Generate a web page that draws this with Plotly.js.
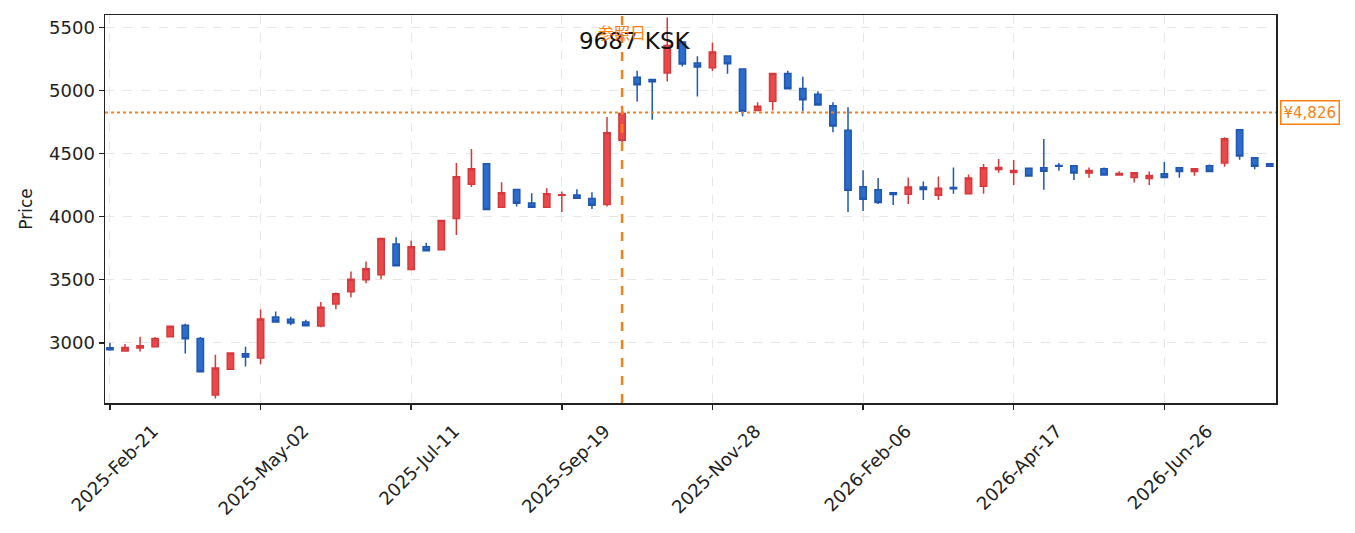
<!DOCTYPE html>
<html>
<head>
<meta charset="utf-8">
<script src="https://cdn.plot.ly/plotly-3.0.1.min.js"></script>
<style>
  html, body { margin: 0; padding: 0; background: #fff; }
  #chart { width: 1355px; height: 533px; }
</style>
</head>
<body>
<div id="chart"></div>
<script>
// Weekly prices (one candle per Friday from 2025-02-21)
const startDate = "2025-02-21";
const opens = [2960, 2934, 2958, 2968, 3048, 3138, 3034, 2586, 2790, 2912,
  2878, 3205, 3186, 3165, 3133, 3308, 3404, 3499, 3539, 3783,
  3581, 3762, 3738, 3985, 4258, 4420, 4075, 4216, 4109, 4075,
  4170, 4173, 4144, 4096, 4606, 5107, 5088, 5139, 5386, 5219,
  5181, 5275, 5171, 4842, 4916, 5136, 5017, 4972, 4881, 4686,
  4237, 4213, 4189, 4178, 4236, 4170, 4232, 4181, 4242, 4375,
  4351, 4385, 4388, 4407, 4404, 4346, 4380, 4330, 4311, 4303,
  4340, 4388, 4359, 4404, 4425, 4690, 4467, 4420];
const highs = [2998, 2990, 3048, 3045, 3132, 3151, 3045, 2904, 2920, 2968,
  3263, 3247, 3207, 3183, 3324, 3398, 3565, 3645, 3826, 3836,
  3812, 3794, 3972, 4425, 4537, 4422, 4274, 4218, 4186, 4226,
  4200, 4218, 4194, 4791, 4880, 5158, 5088, 5580, 5390, 5272,
  5381, 5275, 5171, 4908, 5136, 5158, 5110, 4996, 4908, 4869,
  4369, 4306, 4189, 4311, 4279, 4319, 4391, 4335, 4417, 4457,
  4449, 4385, 4616, 4425, 4404, 4391, 4391, 4361, 4348, 4359,
  4433, 4388, 4380, 4415, 4630, 4690, 4467, 4420];
const lows = [2937, 2934, 2931, 2968, 3046, 2915, 2769, 2557, 2788, 2811,
  2830, 3165, 3138, 3135, 3122, 3265, 3361, 3472, 3504, 3611,
  3581, 3730, 3736, 3854, 4236, 4055, 4075, 4080, 4075, 4075,
  4037, 4146, 4061, 4080, 4540, 4913, 4770, 5072, 5192, 4953,
  5155, 5134, 4797, 4842, 4842, 5014, 4837, 4887, 4670, 4037,
  4045, 4101, 4093, 4101, 4133, 4133, 4181, 4181, 4181, 4348,
  4252, 4322, 4213, 4364, 4292, 4308, 4330, 4330, 4271, 4252,
  4311, 4308, 4324, 4359, 4396, 4452, 4377, 4401];
const closes = [2945, 2963, 2976, 3034, 3130, 3032, 2769, 2799, 2918, 2886,
  3189, 3165, 3157, 3135, 3281, 3388, 3504, 3587, 3826, 3611,
  3762, 3730, 3969, 4316, 4380, 4057, 4189, 4107, 4075, 4181,
  4175, 4146, 4091, 4666, 4818, 5046, 5070, 5359, 5211, 5187,
  5306, 5213, 4837, 4877, 5136, 5014, 4927, 4887, 4720, 4210,
  4139, 4113, 4176, 4236, 4216, 4226, 4221, 4306, 4388, 4391,
  4367, 4322, 4361, 4401, 4346, 4367, 4330, 4343, 4348, 4327,
  4311, 4359, 4380, 4359, 4619, 4481, 4401, 4401];

const refIndex = 34;       // reference date candle
const lastPrice = 4826;
const tickEvery = 10;      // weeks between x ticks

// Build weekly dates
const DAY = 86400000;
const t0 = new Date(startDate + "T00:00:00Z").getTime();
function isoDate(ms) {
  return new Date(ms).toISOString().slice(0, 10);
}
let dates = [];
for (let i = 0; i < opens.length; i++) {
  dates.push(isoDate(t0 + i * 7 * DAY));
}
let tickVals = [];
for (let i = 0; i < dates.length; i += tickEvery) {
  tickVals.push(dates[i]);
}

const fontFam = '"DejaVu Sans", "Noto Sans CJK JP", sans-serif';
const orange = '#ff7f0e';

var trace = {
  type: 'candlestick',
  x: dates,
  open: opens,
  high: highs,
  low: lows,
  close: closes,
  whiskerwidth: 0,
  increasing: {line: {color: '#d8383b', width: 1.5}, fillcolor: '#e84a4b'},
  decreasing: {line: {color: '#1f57b3', width: 1.5}, fillcolor: '#2c6dcb'},
  showlegend: false,
  hoverinfo: 'x+text'
};

var layout = {
  width: 1355,
  height: 533,
  margin: {l: 105, r: 79, t: 15, b: 130},
  paper_bgcolor: '#fff',
  plot_bgcolor: '#fff',
  font: {family: fontFam, size: 16, color: '#222'},
  boxgap: 0.4,
  title: {
    text: '9687 KSK',
    font: {family: fontFam, size: 23, color: '#111'},
    xref: 'paper', x: 0.452, xanchor: 'center',
    yref: 'container', y: 0.924, yanchor: 'middle'
  },
  xaxis: {
    type: 'date',
    range: [t0 - 2.3 * DAY, t0 + (dates.length - 1) * 7 * DAY + 2.9 * DAY],
    rangeslider: {visible: false},
    tickvals: tickVals,
    tickformat: '%Y-%b-%d',
    tickangle: -45,
    // labels centred on their tick, as in the source
    ticklabelshift: 43,
    ticklabelstandoff: 4,
    ticks: 'outside', ticklen: 5, tickwidth: 1.5, tickcolor: '#222',
    showline: true, linecolor: '#222', linewidth: 1.5, mirror: true,
    showgrid: true, gridcolor: '#e6e6e6', griddash: 'dash', gridwidth: 1,
    zeroline: false,
    tickfont: {size: 18, color: '#222'}
  },
  yaxis: {
    range: [2522, 5600],
    tickvals: [3000, 3500, 4000, 4500, 5000, 5500],
    ticks: 'outside', ticklen: 5, tickwidth: 1.5, tickcolor: '#222',
    showline: true, linecolor: '#222', linewidth: 1.5, mirror: true,
    showgrid: true, gridcolor: '#e6e6e6', griddash: 'dash', gridwidth: 1,
    zeroline: false,
    tickfont: {size: 18, color: '#222'},
    title: {text: 'Price', font: {size: 17, color: '#222'}, standoff: 12}
  },
  shapes: [
    // reference date
    {type: 'line', xref: 'x', yref: 'paper', x0: dates[refIndex], x1: dates[refIndex],
     y0: 0, y1: 1, line: {color: orange, width: 2.5, dash: 'dash'}},
    // latest price
    {type: 'line', xref: 'paper', yref: 'y', x0: 0, x1: 1, y0: lastPrice, y1: lastPrice,
     line: {color: orange, width: 2, dash: 'dot'}}
  ],
  annotations: [
    {xref: 'x', yref: 'paper', x: dates[refIndex], y: 0.955, yanchor: 'middle',
     text: '参照日', showarrow: false,
     font: {family: '"Noto Sans CJK JP", sans-serif', size: 16, color: orange}},
    {xref: 'paper', yref: 'y', x: 1, xanchor: 'left', xshift: 4, y: lastPrice,
     text: '¥4,826', showarrow: false, font: {size: 15, color: orange},
     bgcolor: '#fff', bordercolor: orange, borderwidth: 1.5, borderpad: 2}
  ]
};

Plotly.newPlot('chart', [trace], layout, {displayModeBar: false, staticPlot: true});
</script>
</body>
</html>
